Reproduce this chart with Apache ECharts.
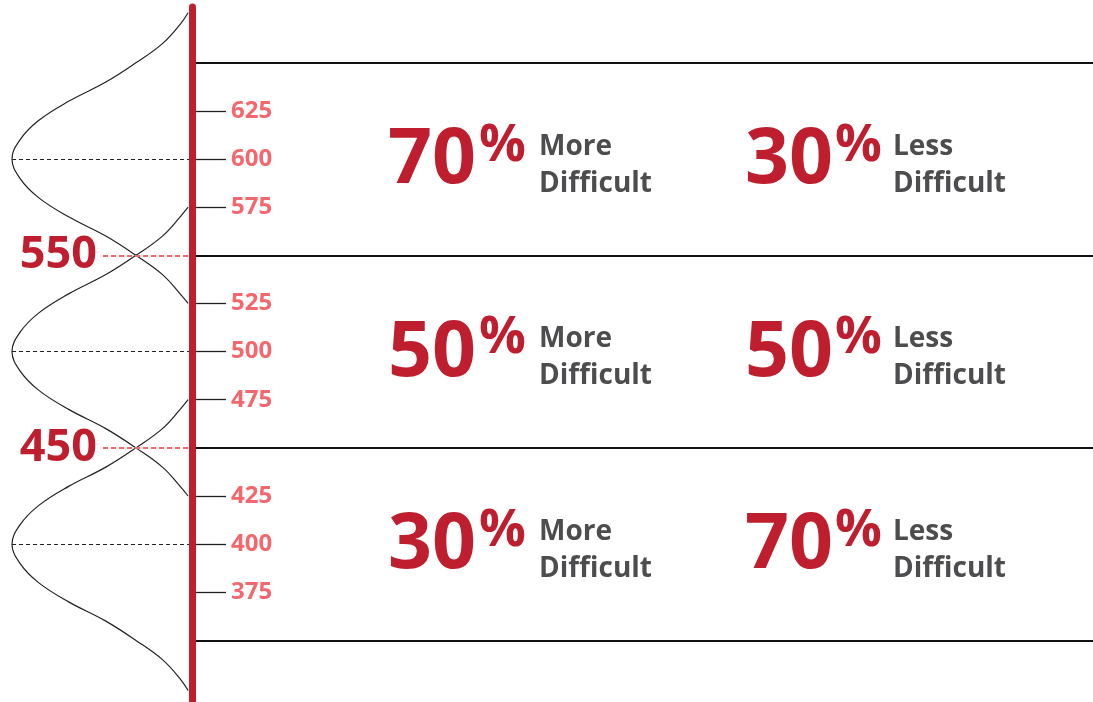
<!DOCTYPE html>
<html>
<head>
<meta charset="utf-8">
<script src="https://cdn.jsdelivr.net/npm/echarts@6/dist/echarts.min.js"></script>
<style>html,body{margin:0;padding:0;background:#fff}#c{width:1093px;height:702px}</style>
</head>
<body>
<div id="c"></div>
<script>
// ---- data ----
const means = [600, 500, 400];
const cutScores = [550, 450];
const tickValues = [625, 600, 575, 525, 500, 475, 425, 400, 375];
const boundaryLines = [650, 550, 450, 350];
const moreDifficult = [70, 50, 30];
const lessDifficult = [30, 50, 70];
const moreText = 'More\nDifficult';
const lessText = 'Less\nDifficult';
// curves: [relative density, scale score]
const curveHigh = [[0.005,676],[0.05,670],[0.15,660],[0.30,650],[0.47,640],[0.68,630],[0.85,620],[0.955,610],[1,600],[0.955,590],[0.85,580],[0.68,570],[0.47,560],[0.30,550],[0.15,540],[0.05,530],[0.005,525]];
const curveMid  = [[0.005,575],[0.05,570],[0.15,560],[0.30,550],[0.47,540],[0.68,530],[0.85,520],[0.955,510],[1,500],[0.955,490],[0.85,480],[0.68,470],[0.47,460],[0.30,450],[0.15,440],[0.05,430],[0.005,425]];
const curveLow  = [[0.005,475],[0.05,470],[0.15,460],[0.30,450],[0.47,440],[0.68,430],[0.85,420],[0.955,410],[1,400],[0.955,390],[0.85,380],[0.68,370],[0.47,360],[0.30,350],[0.15,340],[0.05,330],[0.005,324]];

// ---- layout / style ----
const Y_MIN = 318, Y_MAX = 679;
const CRIMSON = '#BE1E2D', PINK = '#F4676D', GRAY = '#4D4D4F';
const FONT = '"Open Sans", "Noto Sans", sans-serif';
const COL = { numMore: 196, pctMore: 287, descMore: 347, numLess: 553, pctLess: 643, descLess: 701 };
const CUT_START = 0.486;

const chart = echarts.init(document.getElementById('c'), null, { renderer: 'canvas' });

function curveSeries(data, extra) {
  return Object.assign({
    type: 'line', xAxisIndex: 0, yAxisIndex: 0, data: data,
    smooth: 0.4, showSymbol: false, silent: true, animation: false,
    lineStyle: { color: '#222', width: 1.2 }
  }, extra || {});
}

const meanLines = {
  silent: true, symbol: ['none', 'none'], animation: false,
  label: { show: false },
  lineStyle: { color: '#222', width: 1, type: [4, 3] },
  data: means.map(m => [{ coord: [1, m] }, { coord: [0, m] }])
};
const cutLines = {
  silent: true, symbol: ['none', 'none'], animation: false,
  lineStyle: { color: PINK, width: 2, type: [5, 3] },
  label: { show: true, position: 'start', distance: 6, formatter: '{b}',
           color: CRIMSON, fontFamily: FONT, fontWeight: 700, fontSize: 45 },
  data: cutScores.map(v => [{ coord: [CUT_START, v], name: String(v) }, { coord: [0, v] }])
};

function labelSeries(xPos, values, fmt, style, offset) {
  return {
    type: 'scatter', xAxisIndex: 1, yAxisIndex: 1, symbolSize: 0, silent: true, animation: false,
    itemStyle: { opacity: 1 },
    data: values.map((v, i) => [xPos, means[i], v]),
    label: Object.assign({ show: true, position: 'right', distance: 0, formatter: fmt,
      fontFamily: FONT, fontWeight: 700, offset: offset, opacity: 1 }, style)
  };
}

const numStyle = { fontSize: 77, color: CRIMSON };
const pctStyle = { fontSize: 52, color: CRIMSON };
const descStyle = { fontSize: 28, color: GRAY, lineHeight: 37 };

chart.setOption({
  animation: false,
  grid: [
    { left: 12, top: 7, width: 177, height: 695 },
    { left: 192, top: 7, right: 0, height: 695 }
  ],
  xAxis: [
    { gridIndex: 0, type: 'value', min: 0, max: 1, inverse: true, show: false },
    { gridIndex: 1, type: 'value', min: 0, max: 901, show: false }
  ],
  yAxis: [
    { gridIndex: 0, type: 'value', min: Y_MIN, max: Y_MAX, show: false },
    { gridIndex: 1, type: 'value', min: Y_MIN, max: Y_MAX, position: 'left', z: 10,
      axisLine: { show: true, lineStyle: { color: CRIMSON, width: 7 } },
      axisTick: { show: false }, axisLabel: { show: false }, splitLine: { show: false } },
    { gridIndex: 1, type: 'value', min: Y_MIN, max: Y_MAX, position: 'left', offset: -4,
      axisLine: { show: false },
      axisTick: { show: true, inside: true, length: 30, customValues: tickValues,
                  lineStyle: { color: '#222', width: 1.3 } },
      axisLabel: { show: true, inside: true, margin: 35, customValues: tickValues,
                   color: PINK, fontFamily: FONT, fontWeight: 700, fontSize: 24 },
      splitLine: { show: false } }
  ],
  series: [
    curveSeries(curveHigh, { markLine: meanLines }),
    curveSeries(curveMid, { markLine: cutLines }),
    curveSeries(curveLow),
    {
      type: 'line', xAxisIndex: 1, yAxisIndex: 1, data: [], silent: true,
      markLine: { silent: true, symbol: ['none', 'none'], animation: false, label: { show: false },
                  lineStyle: { color: '#111', width: 2, type: 'solid' },
                  data: boundaryLines.map(v => ({ yAxis: v })) }
    },
    labelSeries(COL.numMore, moreDifficult, p => p.value[2], numStyle, [0, 2]),
    labelSeries(COL.pctMore, moreDifficult, '%', pctStyle, [0, -13]),
    labelSeries(COL.descMore, moreDifficult, moreText, descStyle, [0, 6]),
    labelSeries(COL.numLess, lessDifficult, p => p.value[2], numStyle, [0, 2]),
    labelSeries(COL.pctLess, lessDifficult, '%', pctStyle, [0, -13]),
    labelSeries(COL.descLess, lessDifficult, lessText, descStyle, [0, 6])
  ]
});
</script>
</body>
</html>
